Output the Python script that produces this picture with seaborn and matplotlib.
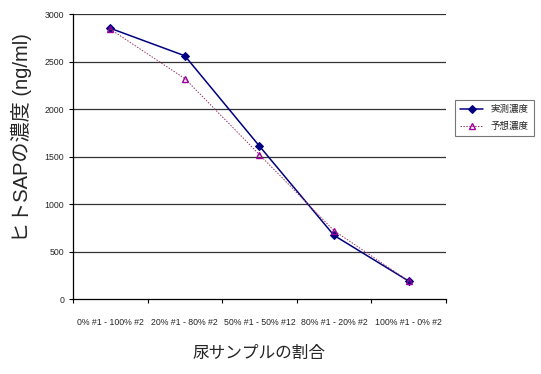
import matplotlib
matplotlib.use('Agg')
import matplotlib.pyplot as plt
import seaborn as sns
import pandas as pd
from matplotlib.ticker import FixedLocator

sns.set_theme(style="white")
plt.rcParams['font.family'] = ['Liberation Sans', 'Noto Sans CJK JP', 'DejaVu Sans']

# data
categories = ['0% #1 - 100% #2', '20% #1 - 80% #2', '50% #1 - 50% #12',
              '80% #1 - 20% #2', '100% #1 - 0% #2']
measured = [2850, 2560, 1610, 670, 190]
predicted = [2840, 2320, 1520, 720, 190]

df = pd.DataFrame({'cat': categories, 'measured': measured, 'predicted': predicted})

fig = plt.figure(figsize=(5.41, 3.74), dpi=100)
ax = fig.add_axes([0.135, 0.2005, 0.689, 0.762])

# gridlines
for v in [500, 1000, 1500, 2000, 2500, 3000]:
    ax.axhline(v, color='#333333', lw=0.9, zorder=0)

sns.lineplot(data=df, x='cat', y='measured', ax=ax, color='#000080', lw=1.1,
             marker='D', markersize=4, markeredgecolor='#000080',
             markerfacecolor='#000080', label='実測濃度', sort=False)
sns.lineplot(data=df, x='cat', y='predicted', ax=ax, color='#993366', lw=0.7,
             linestyle=(0, (1.5, 1.5)), marker='^', markersize=5,
             markeredgecolor='#990099', markerfacecolor='none', markeredgewidth=1.0,
             label='予想濃度', sort=False)

ax.set_xlim(-0.5, len(categories) - 0.5)
ax.set_ylim(0, 3000)
ax.set_yticks(range(0, 3001, 500))
ax.set_xticks(range(len(categories)))
ax.set_xticklabels(categories)
ax.xaxis.set_minor_locator(FixedLocator([i - 0.5 for i in range(len(categories) + 1)]))
ax.tick_params(axis='x', which='major', length=0, labelsize=6.3, pad=14)
ax.tick_params(axis='x', which='minor', length=3, width=0.8, color='black', direction='out', bottom=True)
ax.tick_params(axis='y', length=3, width=0.8, color='black', direction='out', left=True, labelsize=6.3)

for s in ['top', 'right']:
    ax.spines[s].set_visible(False)
for s in ['left', 'bottom']:
    ax.spines[s].set_color('black')
    ax.spines[s].set_linewidth(0.9)

ax.set_xlabel('尿サンプルの割合', fontsize=12, labelpad=13)
ax.set_ylabel('ヒトSAPの濃度 (ng/ml)', fontsize=14.5)
ax.yaxis.set_label_coords(-0.11, 0.565)

leg = ax.legend(loc='center left', bbox_to_anchor=(1.012, 0.635), fontsize=6.8,
                frameon=True, fancybox=False, edgecolor='#555555',
                handlelength=2.4, borderpad=0.55, labelspacing=0.8)
leg.get_frame().set_linewidth(0.8)

fig.savefig('out.png', dpi=100)
